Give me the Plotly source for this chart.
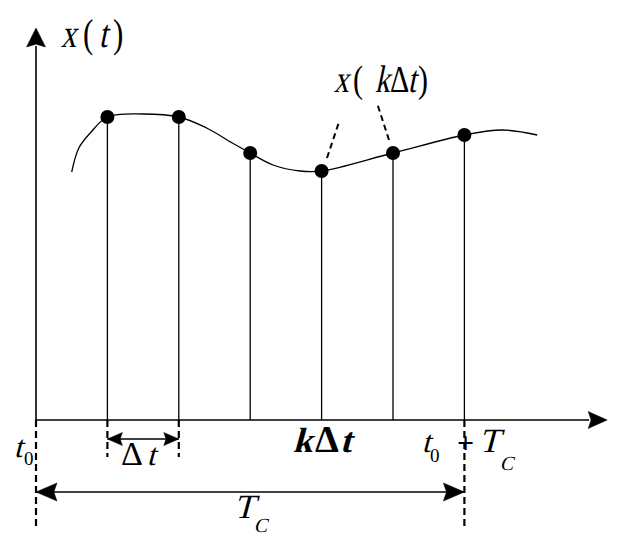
import json
import plotly.graph_objects as go

# ---- data (sample index k, signal values) ----
K = [1, 2, 3, 4, 5, 6]
XK = [3.03, 3.03, 2.67, 2.49, 2.67, 2.85]
CURVE_T = [0.50, 0.60, 0.76, 1.0, 1.5, 2.0, 2.39, 2.75, 3.0, 3.32, 3.70, 4.0, 5.0, 6.0, 6.53, 7.02]
CURVE_X = [2.48, 2.72, 2.87, 3.03, 3.06, 3.03, 2.92, 2.77, 2.67, 2.55, 2.49, 2.49, 2.67, 2.85, 2.90, 2.85]
T0 = 0
TC = 6
AXIS_T_MAX = 8.0
AXIS_X_MAX = 3.92

W, H = 636, 548
OFF = 8       # page body margin
PX_T = 71.4   # pixels per Δt
PX_X = 100.0  # pixels per value unit
X_RANGE = [(OFF - 36) / PX_T, (W - 36) / PX_T]
Y_RANGE = [-(H - 420) / PX_X, (420 - OFF) / PX_X]

FONT = "Liberation Serif, Times New Roman, serif"
BLACK = "black"

fig = go.Figure()

# curve
fig.add_trace(go.Scatter(x=CURVE_T, y=CURVE_X, mode="lines",
                         line=dict(color=BLACK, width=1.3, shape="spline", smoothing=1.0),
                         hoverinfo="skip"))

shapes = []
# stems
for k, v in zip(K, XK):
    shapes.append(dict(type="line", x0=k, x1=k, y0=0, y1=v, xref="x", yref="y",
                       line=dict(color=BLACK, width=1.3)))

# axes lines
shapes.append(dict(type="line", x0=T0, x1=AXIS_T_MAX - 18 / PX_T, y0=0, y1=0,
                   line=dict(color=BLACK, width=1.6)))
shapes.append(dict(type="line", x0=T0, x1=T0, y0=0, y1=AXIS_X_MAX - 18 / PX_X,
                   line=dict(color=BLACK, width=1.6)))

# dashed guides
dash = "7px,4px"
for t, depth in [(T0, 1.08), (1, 0.37), (2, 0.37), (TC, 1.08)]:
    shapes.append(dict(type="line", x0=t, x1=t, y0=0, y1=-depth,
                       line=dict(color=BLACK, width=2.2, dash=dash)))

# Δt and T_C arrows
ydt = -0.19
ytc = -0.72
shapes.append(dict(type="line", x0=1, x1=2, y0=ydt, y1=ydt, line=dict(color=BLACK, width=1.5)))
shapes.append(dict(type="line", x0=T0, x1=TC, y0=ytc, y1=ytc, line=dict(color=BLACK, width=1.5)))


def head(tx, ty, direction, L, Wd):
    n = L * 0.85
    h = Wd / 2
    if direction == "right":
        p = f"M0,0 L{-L},{h} L{-n},0 L{-L},{-h} Z"
    elif direction == "left":
        p = f"M0,0 L{L},{h} L{n},0 L{L},{-h} Z"
    else:  # up
        p = f"M0,0 L{h},{-L} L0,{-n} L{-h},{-L} Z"
    return dict(type="path", xsizemode="pixel", ysizemode="pixel", xanchor=tx, yanchor=ty,
                path=p, fillcolor=BLACK, line=dict(color=BLACK, width=0.5))


shapes.append(head(AXIS_T_MAX, 0, "right", 19, 17))
shapes.append(head(T0, AXIS_X_MAX, "up", 19, 19))
shapes.append(head(1, ydt, "left", 15, 13))
shapes.append(head(2, ydt, "right", 15, 13))
shapes.append(head(T0, ytc, "left", 21, 18))
shapes.append(head(TC, ytc, "right", 21, 18))


def px(xp, yp):
    return (xp - 36) / PX_T, (420 - yp) / PX_X


# dashed leaders to x(kΔt)
for (a, b), (c, d) in [((327, 158), (339, 122)), ((389, 140), (377, 103))]:
    x0, y0 = px(a, b)
    x1, y1 = px(c, d)
    shapes.append(dict(type="line", x0=x0, y0=y0, x1=x1, y1=y1,
                       line=dict(color=BLACK, width=2, dash="6px,4px")))

# sample points
fig.add_trace(go.Scatter(x=K, y=XK, mode="markers",
                         marker=dict(color=BLACK, size=14), hoverinfo="skip"))

anns = []
transforms = {}


def glyph(ch, cx, baseline, size, italic=False, bold=False, sy=1.0):
    # box centre of a single text line sits ~0.34em above the baseline
    x, y = px(cx, baseline - 0.34 * size)
    tf = []
    if sy != 1.0:
        tf.append(f"scaleY({sy})")
    if italic:
        tf.append("skewX(-15deg)")
    if tf:
        transforms[len(anns)] = " ".join(tf)
    anns.append(dict(x=x, y=y, xref="x", yref="y", text=ch, showarrow=False,
                     font=dict(family=FONT, size=size, color=BLACK,
                               weight="bold" if bold else "normal"),
                     xanchor="center", yanchor="middle", borderpad=0))


SY = 1.28
# x(t)
glyph("x", 69, 47, 31, italic=True, sy=SY)
glyph("(", 88, 47, 31, sy=SY)
glyph("t", 103, 47, 31, italic=True, sy=SY)
glyph(")", 118, 47, 31, sy=SY)
# x(kΔt)
glyph("x", 341, 92, 30, italic=True, sy=SY)
glyph("(", 357.5, 92, 30, sy=SY)
glyph("k", 382.5, 92, 30, italic=True, sy=SY)
glyph("Δ", 399, 92, 30, sy=SY)
glyph("t", 412.5, 92, 30, italic=True, sy=SY)
glyph(")", 422.5, 92, 30, sy=SY)
# t0 (left)
glyph("t", 18.5, 457, 31, italic=True)
glyph("0", 28.5, 465, 19)
# Δt
glyph("Δ", 131.5, 465, 34)
glyph("t", 151, 465, 31, italic=True)
# kΔt (bold)
glyph("k", 303, 452, 35, italic=True, bold=True)
glyph("Δ", 326.5, 452, 38, bold=True)
glyph("t", 345.5, 452, 35, italic=True, bold=True)
# t0 + T_C
glyph("t", 426, 452, 31, italic=True)
glyph("0", 435, 462, 19)
glyph("+", 465, 453, 30, bold=True)
glyph("T", 489.5, 452, 34, italic=True)
glyph("C", 506, 470, 20, italic=True)
# T_C (bottom)
glyph("T", 244, 518, 34, italic=True)
glyph("C", 260, 532, 20, italic=True)

fig.update_layout(
    width=W - OFF, height=H - OFF, margin=dict(l=0, r=0, t=0, b=0),
    paper_bgcolor="white", plot_bgcolor="white", showlegend=False,
    xaxis=dict(range=X_RANGE, showgrid=False, zeroline=False, showticklabels=False,
               showline=False, ticks="", fixedrange=True),
    yaxis=dict(range=Y_RANGE, showgrid=False, zeroline=False, showticklabels=False,
               showline=False, ticks="", fixedrange=True),
    shapes=shapes, annotations=anns,
)

# serif italic faces are not installed: slant (and stretch) the serif glyphs instead
post = """
var gd = document.getElementById('{plot_id}');
var tf = TF_MAP;
gd.querySelectorAll('g.annotation').forEach(function(g){
  var i = g.getAttribute('data-index');
  if (tf[i]) {
    var t = g.querySelector('text');
    if (t) {
      t.style.transformBox = 'fill-box';
      t.style.transformOrigin = '50% 78%';
      t.style.transform = tf[i];
    }
  }
});
""".replace("TF_MAP", json.dumps({str(k): v for k, v in transforms.items()}))

fig.write_html("out.html", post_script=post)
